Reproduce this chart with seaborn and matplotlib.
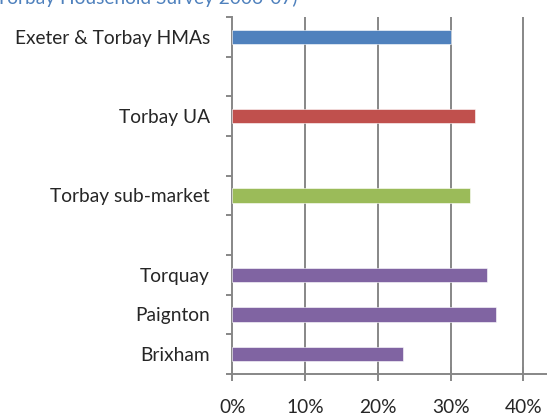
import matplotlib
matplotlib.use("Agg")
import matplotlib.pyplot as plt
import seaborn as sns
import pandas as pd
import numpy as np

# Chart data (blank strings keep the gaps between the groups)
areas = ["Exeter & Torbay HMAs", " ", "Torbay UA", "  ", "Torbay sub-market", "   ",
         "Torquay", "Paignton", "Brixham"]
shares = [30.0, np.nan, 33.4, np.nan, 32.7, np.nan, 35.0, 36.3, 23.5]
bar_colors = ["#4F81BD", "#FFFFFF", "#C0504D", "#FFFFFF", "#9BBB59", "#FFFFFF",
              "#8064A2", "#8064A2", "#8064A2"]
x_ticks = [0, 10, 20, 30, 40]
x_labels = ["0%", "10%", "20%", "30%", "40%"]
title_text = "Torbay Household Survey 2006-07)"

sns.set_style("white")
plt.rcParams["font.family"] = ["Lato", "DejaVu Sans"]

df = pd.DataFrame({"Area": areas, "Share": shares})
df = df.dropna()

fig = plt.figure(figsize=(5.47, 4.18), dpi=100)
ax = fig.add_axes([232.3 / 547, 44 / 418, 1 - 232.3 / 547, (374 - 17) / 418])

palette = dict(zip(areas, bar_colors))
sns.barplot(data=df, y="Area", x="Share", hue="Area", order=areas, palette=palette,
            orient="h", width=0.36, saturation=1, legend=False, ax=ax, zorder=3,
            edgecolor="white", linewidth=0.4)

grid_col = "#878787"
ax.set_xlim(0, (547 - 232.3) / 7.275)
ax.set_ylim(8.5, -0.5)
for t in x_ticks[1:]:
    ax.axvline(t, color=grid_col, lw=1.4, zorder=1)

ax.set_xticks(x_ticks)
ax.set_xticklabels(x_labels)
ax.tick_params(axis="x", direction="inout", length=9.5, width=1.4, color=grid_col,
               pad=13, labelsize=13.8, bottom=True)
ax.set_yticks(range(len(areas)))
ax.set_yticklabels(areas)
ax.tick_params(axis="y", which="major", length=0, pad=16, labelsize=13.8)
ax.set_yticks(np.arange(-0.5, 9, 1), minor=True)
ax.tick_params(axis="y", which="minor", direction="out", length=4, width=1.4,
               color=grid_col, left=True)

ax.set_xlabel("")
ax.set_ylabel("")
for side in ["top", "right"]:
    ax.spines[side].set_visible(False)
for side in ["left", "bottom"]:
    ax.spines[side].set_color(grid_col)
    ax.spines[side].set_linewidth(1.4)

# title sits mostly above the picture, as in the original crop
fig.text(297 / 547, 1 - 4 / 418, title_text, color="#4F81BD", fontsize=13.8,
         ha="right", va="baseline")

fig.savefig("out.png", dpi=100)
